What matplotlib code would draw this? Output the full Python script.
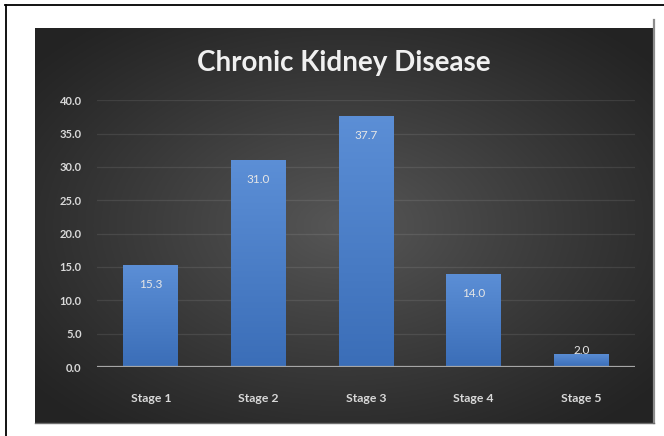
import numpy as np
import matplotlib
matplotlib.use("Agg")
import matplotlib.pyplot as plt
from matplotlib.lines import Line2D

# Chart data
stages = ["Stage 1", "Stage 2", "Stage 3", "Stage 4", "Stage 5"]
values = [15.3, 31.0, 37.7, 14.0, 2.0]
value_labels = ["15.3", "31.0", "37.7", "14.0", "2.0"]
y_ticks = [0, 5, 10, 15, 20, 25, 30, 35, 40]
y_tick_labels = ["0.0", "5.0", "10.0", "15.0", "20.0", "25.0", "30.0", "35.0", "40.0"]
title = "Chronic Kidney Disease"

W, H = 664, 436
fig = plt.figure(figsize=(W / 100, H / 100), dpi=100)
fig.patch.set_facecolor("white")

def fx(px):
    return px / W

def fy(py):
    return 1 - py / H

FONT = ["Lato", "DejaVu Sans"]

# Page frame (top and left rules)
fig.add_artist(Line2D([fx(5), 1], [fy(5.5), fy(5.5)], color="black", lw=1.3,
                      transform=fig.transFigure))
fig.add_artist(Line2D([fx(5.5), fx(5.5)], [fy(5), 0], color="black", lw=1.3,
                      transform=fig.transFigure))

# Dark chart panel with radial shading
pl, pr, pt, pb = 35, 654, 28, 423
bg = fig.add_axes([fx(pl), fy(pb), fx(pr - pl), (pb - pt) / H])
yy, xx = np.mgrid[0:1:300j, 0:1:400j]
r = np.sqrt(((xx - 0.5) / 0.65) ** 2 + ((yy - 0.5) / 0.65) ** 2)
shade = np.clip(1 - r, 0, 1) ** 1.1
lo, hi = np.array([0.14, 0.14, 0.14]), np.array([0.34, 0.34, 0.34])
img = lo + (hi - lo) * shade[..., None]
bg.imshow(img, extent=[0, 1, 0, 1], aspect="auto", origin="lower", zorder=0)
bg.set_xlim(0, 1)
bg.set_ylim(0, 1)
bg.axis("off")

# Thin light edges on the right and bottom of the panel
fig.add_artist(Line2D([fx(pr), fx(pr)], [fy(20), fy(pb)], color="#8c8c8c", lw=1.6,
                      transform=fig.transFigure))
fig.add_artist(Line2D([fx(pl), fx(pr)], [fy(pb), fy(pb)], color="#6e6e6e", lw=1.0,
                      transform=fig.transFigure))

# Plot area
al, ar, a_top, a_bot = 97, 635, 100.3, 367
ax = fig.add_axes([fx(al), fy(a_bot), fx(ar - al), (a_bot - a_top) / H])
ax.patch.set_alpha(0)
x = np.arange(len(stages))
bars = ax.bar(x, values, width=0.51, color="#4a7fc9", zorder=2)

# Vertical gradient fill for each bar
grad = np.linspace(0, 1, 256)[:, None]
top_c = np.array([0.36, 0.56, 0.84])
bot_c = np.array([0.23, 0.43, 0.72])
gimg = bot_c + (top_c - bot_c) * grad[..., None]
gimg = np.repeat(gimg, 2, axis=1)
for b in bars:
    b.set_facecolor("none")
    x0, w, h = b.get_x(), b.get_width(), b.get_height()
    im = ax.imshow(gimg, extent=[x0, x0 + w, 0, h], aspect="auto",
                   origin="lower", zorder=2)
    im.set_clip_path(b)

ax.set_xlim(-0.5, len(stages) - 0.5)
ax.set_ylim(0, 40)

# Gridlines and baseline
for t in y_ticks[1:]:
    ax.axhline(t, color="white", alpha=0.09, lw=0.9, zorder=1)
ax.axhline(0, color="#a6a6a6", lw=1.6, zorder=3)

for s in ax.spines.values():
    s.set_visible(False)
ax.set_yticks(y_ticks)
ax.set_yticklabels(y_tick_labels, fontfamily=FONT, fontsize=8, color="#d9d9d9",
                   fontweight="bold")
ax.set_xticks(x)
ax.set_xticklabels(stages, fontfamily=FONT, fontsize=8.8, color="#d9d9d9",
                   fontweight="bold")
ax.tick_params(axis="y", length=0, pad=11)
ax.tick_params(axis="x", length=0, pad=19)

# Value labels
for xi, v, lab in zip(x, values, value_labels):
    if v > 5:
        ax.annotate(lab, (xi, v), xytext=(0, -14), textcoords="offset points",
                    ha="center", va="center", fontfamily=FONT, fontsize=8.5,
                    color="#e6e6e6", zorder=4)
    else:
        ax.annotate(lab, (xi, v), xytext=(0, 2), textcoords="offset points",
                    ha="center", va="center", fontfamily=FONT, fontsize=8.5,
                    color="#e6e6e6", zorder=4)

# Title
fig.text(fx(344), fy(63), title, ha="center", va="center", fontfamily=FONT,
         fontsize=20, fontweight="bold", color="#f0f0f0")

fig.savefig("out.png", dpi=100, facecolor=fig.get_facecolor())
